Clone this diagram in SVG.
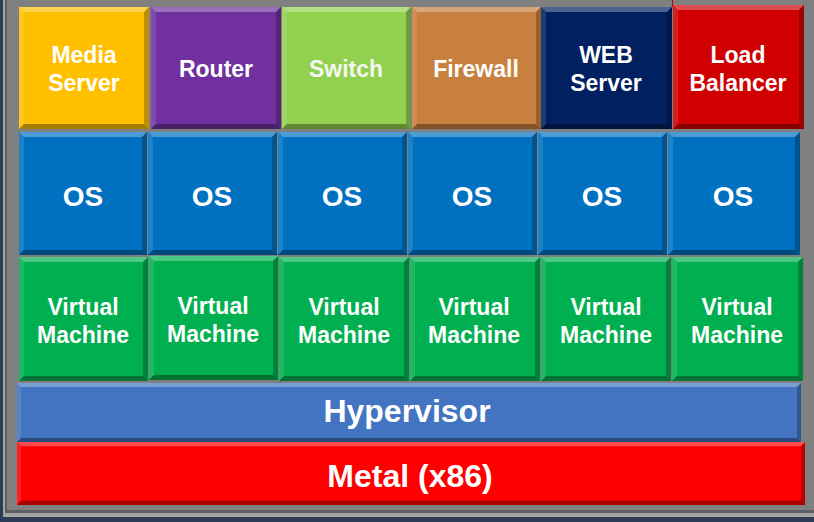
<svg xmlns="http://www.w3.org/2000/svg" xmlns:xlink="http://www.w3.org/1999/xlink" width="814" height="522" viewBox="0 0 814 522">
<style>
text{font-family:"Liberation Sans",Arial,sans-serif;font-weight:bold;fill:#fff;text-anchor:middle}
.s{font-size:23px}
.os{font-size:28px}
.big{font-size:32px}
</style>
<defs>
<symbol id="bevel" viewBox="0 0 130 123" preserveAspectRatio="none">
<polygon points="0,0 130,0 125,5 5,5" fill="#fff" fill-opacity="0.3"/>
<polygon points="0,0 5,5 5,118 0,123" fill="#fff" fill-opacity="0.12"/>
<polygon points="130,0 130,123 125,118 125,5" fill="#000" fill-opacity="0.25"/>
<polygon points="0,123 130,123 125,118 5,118" fill="#000" fill-opacity="0.35"/>
</symbol>
<symbol id="bevelWide" viewBox="0 0 784 60" preserveAspectRatio="none">
<polygon points="0,0 784,0 780,4 4,4" fill="#fff" fill-opacity="0.3"/>
<polygon points="0,0 4,4 4,56 0,60" fill="#fff" fill-opacity="0.12"/>
<polygon points="784,0 784,60 780,56 780,4" fill="#000" fill-opacity="0.25"/>
<polygon points="0,60 784,60 780,56 4,56" fill="#000" fill-opacity="0.35"/>
</symbol>
</defs>
<g id="frame">
<rect x="0" y="0" width="814" height="522" fill="#2c3d55"/>
<rect x="3" y="0" width="811" height="517" fill="#a3a3a3"/>
<rect x="5" y="0" width="809" height="513" fill="#5f5f5f"/>
<rect x="7" y="0" width="807" height="510" fill="#808080"/>
<line x1="672.5" y1="0" x2="672.5" y2="7" stroke="#c00000" stroke-width="1"/>
</g>
<g id="media-server"><rect x="19" y="7" width="130" height="122" fill="#ffc000"/><use xlink:href="#bevel" x="19" y="7" width="130" height="122"/><text class="s" x="84" y="63">Media</text><text class="s" x="84" y="91">Server</text></g>
<g id="router"><rect x="151" y="7" width="130" height="122" fill="#7030a0"/><use xlink:href="#bevel" x="151" y="7" width="130" height="122"/><text class="s" x="216" y="77">Router</text></g>
<g id="switch"><rect x="282" y="7" width="129" height="122" fill="#92d050"/><use xlink:href="#bevel" x="282" y="7" width="129" height="122"/><text class="s" x="346" y="77" style="fill:#f4f8ee">Switch</text></g>
<g id="firewall"><rect x="412" y="7" width="129" height="122" fill="#c8803e"/><use xlink:href="#bevel" x="412" y="7" width="129" height="122"/><text class="s" x="476" y="77">Firewall</text></g>
<g id="web-server"><rect x="541" y="7" width="131" height="122" fill="#002060"/><use xlink:href="#bevel" x="541" y="7" width="131" height="122"/><text class="s" x="606" y="63">WEB</text><text class="s" x="606" y="91">Server</text></g>
<g id="load-balancer"><rect x="673" y="5" width="131" height="124" fill="#d00000"/><use xlink:href="#bevel" x="673" y="5" width="131" height="124"/><text class="s" x="738" y="63">Load</text><text class="s" x="738" y="91">Balancer</text></g>

<g id="os-1"><rect x="19" y="132" width="128" height="123" fill="#0070c0"/><use xlink:href="#bevel" x="19" y="132" width="128" height="123"/><text class="os" x="83" y="206">OS</text></g>
<g id="os-2"><rect x="148" y="132" width="129" height="123" fill="#0070c0"/><use xlink:href="#bevel" x="148" y="132" width="129" height="123"/><text class="os" x="212" y="206">OS</text></g>
<g id="os-3"><rect x="278" y="132" width="129" height="123" fill="#0070c0"/><use xlink:href="#bevel" x="278" y="132" width="129" height="123"/><text class="os" x="342" y="206">OS</text></g>
<g id="os-4"><rect x="408" y="132" width="129" height="123" fill="#0070c0"/><use xlink:href="#bevel" x="408" y="132" width="129" height="123"/><text class="os" x="472" y="206">OS</text></g>
<g id="os-5"><rect x="538" y="132" width="129" height="123" fill="#0070c0"/><use xlink:href="#bevel" x="538" y="132" width="129" height="123"/><text class="os" x="602" y="206">OS</text></g>
<g id="os-6"><rect x="668" y="132" width="132" height="123" fill="#0070c0"/><use xlink:href="#bevel" x="668" y="132" width="132" height="123"/><text class="os" x="733" y="206">OS</text></g>

<g id="vm-1"><rect x="19" y="257" width="129" height="124" fill="#00b050"/><use xlink:href="#bevel" x="19" y="257" width="129" height="124"/><text class="s" x="83" y="315">Virtual</text><text class="s" x="83" y="343">Machine</text></g>
<g id="vm-2"><rect x="149" y="256" width="129" height="124" fill="#00b050"/><use xlink:href="#bevel" x="149" y="256" width="129" height="124"/><text class="s" x="213" y="314">Virtual</text><text class="s" x="213" y="342">Machine</text></g>
<g id="vm-3"><rect x="279" y="257" width="130" height="124" fill="#00b050"/><use xlink:href="#bevel" x="279" y="257" width="130" height="124"/><text class="s" x="344" y="315">Virtual</text><text class="s" x="344" y="343">Machine</text></g>
<g id="vm-4"><rect x="410" y="257" width="130" height="124" fill="#00b050"/><use xlink:href="#bevel" x="410" y="257" width="130" height="124"/><text class="s" x="474" y="315">Virtual</text><text class="s" x="474" y="343">Machine</text></g>
<g id="vm-5"><rect x="541" y="257" width="130" height="124" fill="#00b050"/><use xlink:href="#bevel" x="541" y="257" width="130" height="124"/><text class="s" x="606" y="315">Virtual</text><text class="s" x="606" y="343">Machine</text></g>
<g id="vm-6"><rect x="672" y="257" width="131" height="124" fill="#00b050"/><use xlink:href="#bevel" x="672" y="257" width="131" height="124"/><text class="s" x="737" y="315">Virtual</text><text class="s" x="737" y="343">Machine</text></g>

<g id="hypervisor"><rect x="17" y="383" width="784" height="59" fill="#4274c2"/><use xlink:href="#bevelWide" x="17" y="383" width="784" height="59"/><text class="big" x="407" y="422">Hypervisor</text></g>
<g id="metal"><rect x="17" y="442" width="788" height="63" fill="#ff0000"/><use xlink:href="#bevelWide" x="17" y="442" width="788" height="63"/><text class="big" x="410" y="487">Metal (x86)</text></g>
<g id="connectors"/>
</svg>
